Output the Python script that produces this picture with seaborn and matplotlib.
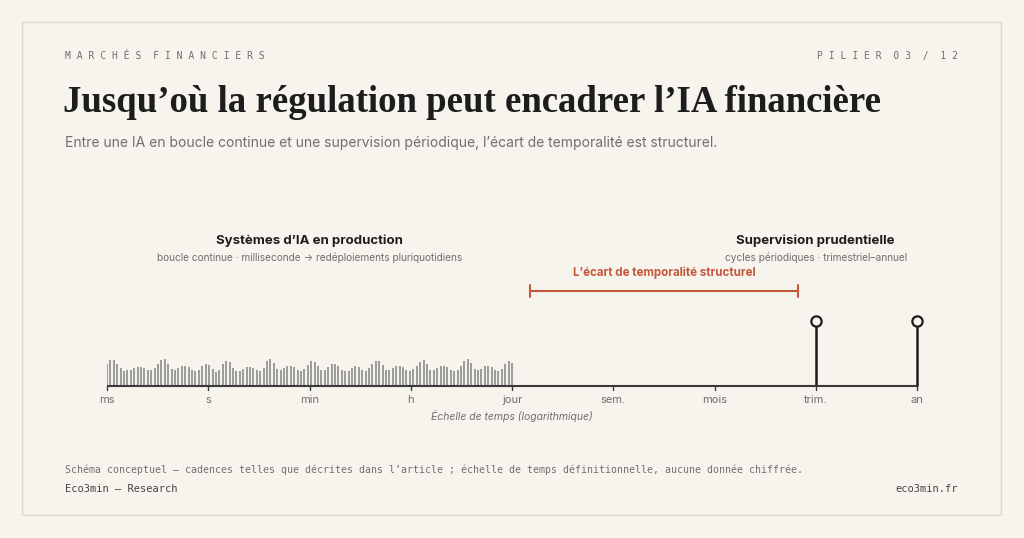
import numpy as np
import matplotlib.pyplot as plt
import seaborn as sns
from matplotlib.patches import Rectangle

sns.set_theme(style="white")
plt.rcParams['font.family'] = ['Inter', 'DejaVu Sans']

BG = '#f7f4ee'
INK = '#1d1d1d'
GREY = '#6f6f6f'
RED = '#c4583a'

tick_labels = ['ms', 's', 'min', 'h', 'jour', 'sem.', 'mois', 'trim.', 'an']
# continuous AI cadence: bar heights (conceptual, px-like units)
ai_heights = [22, 26, 26, 22, 18, 15, 16, 16, 18, 19, 19, 18, 16, 16, 18, 22, 26, 27, 22, 17,
              16, 18, 20, 20, 19, 16, 15, 16, 20, 22, 21, 17, 14, 16, 22, 25, 24, 18, 15, 15,
              17, 19, 19, 18, 16, 15, 18, 25, 27, 23, 17, 16, 18, 20, 20, 19, 16, 15, 17, 21,
              25, 24, 20, 16, 16, 19, 22, 22, 20, 16, 15, 15, 18, 20, 19, 16, 15, 18, 22, 25,
              25, 21, 16, 16, 18, 20, 20, 19, 16, 15, 17, 20, 24, 26, 22, 16, 16, 18, 20, 20,
              19, 16, 15, 16, 20, 25, 27, 23, 17, 16, 17, 20, 20, 19, 16, 15, 17, 22, 25, 23]
sup_x = [7, 8]
sup_h = [65, 65]
gap_start, gap_end = 4.18, 6.82

fig = plt.figure(figsize=(10.24, 5.38), dpi=100)
fig.patch.set_facecolor(BG)
fig.patches.append(Rectangle((22 / 1024, 1 - 515 / 538), 979 / 1024, 493 / 538,
                             transform=fig.transFigure, fill=False, ec='#dcd8cf', lw=1))

def fy(px):
    return 1 - px / 538

mono = ['DejaVu Sans Mono']
fig.text(65 / 1024, fy(56), 'M A R C H É S   F I N A N C I E R S'.replace('   ', '  '), family=mono,
         fontsize=7, color=GREY, va='center')
fig.text(958 / 1024, fy(56), 'P I L I E R  0 3  /  1 2', family=mono, fontsize=7, color=GREY,
         va='center', ha='right')
fig.text(63 / 1024, fy(103), 'Jusqu’où la régulation peut encadrer l’IA financière',
         family=['Liberation Serif'], fontsize=26.5, fontweight='bold', color=INK, va='center')
fig.text(65 / 1024, fy(143), 'Entre une IA en boucle continue et une supervision périodique, l’écart de temporalité est structurel.',
         fontsize=10, color=GREY, va='center')
fig.text(65 / 1024, fy(470), 'Schéma conceptuel — cadences telles que décrites dans l’article ; échelle de temps définitionnelle, aucune donnée chiffrée.',
         family=mono, fontsize=7.1, color=GREY, va='center')
fig.text(65 / 1024, fy(489), 'Eco3min — Research', family=mono, fontsize=7.5, color='#444444', va='center')
fig.text(958 / 1024, fy(489), 'eco3min.fr', family=mono, fontsize=7.5, color='#444444', va='center', ha='right')

# axes: x 107..917 px -> 0..8 ; y 220..430 px -> 166..-44
ax = fig.add_axes([107 / 1024, 1 - 430 / 538, 810 / 1024, 210 / 538])
ax.set_xlim(0, 8)
ax.set_ylim(-44, 166)
ax.axis('off')

bx = np.linspace(0, 4, len(ai_heights))
ax.vlines(bx, 0, ai_heights, color='#8c8c8c', lw=1.2)
ax.vlines(sup_x, 0, sup_h, color=INK, lw=1.8, clip_on=False)
sns.scatterplot(x=sup_x, y=sup_h, ax=ax, s=55, facecolor=BG, edgecolor=INK, linewidth=1.6,
                zorder=5, clip_on=False)
ax.axhline(0, color='#3a3a3a', lw=1.5)
for i, lab in enumerate(tick_labels):
    ax.plot([i, i], [0, -4], color='#3a3a3a', lw=1, clip_on=False)
    ax.text(i, -14, lab, ha='center', va='center', fontsize=8, color=GREY)
ax.text(4, -30, 'Échelle de temps (logarithmique)', ha='center', va='center', fontsize=7.5,
        color=GREY, style='italic')

ax.plot([gap_start, gap_end], [95, 95], color=RED, lw=1.5)
ax.plot([gap_start, gap_start], [89, 101], color=RED, lw=1.5)
ax.plot([gap_end, gap_end], [89, 101], color=RED, lw=1.5)
ax.text((gap_start + gap_end) / 2, 113, 'L’écart de temporalité structurel', ha='center', va='center',
        fontsize=8.3, color=RED, fontweight='bold')

ax.text(2, 145, 'Systèmes d’IA en production', ha='center', va='center', fontsize=9.5,
        fontweight='bold', color=INK)
ax.text(2, 128, 'boucle continue · milliseconde → redéploiements pluriquotidiens', ha='center',
        va='center', fontsize=7.3, color=GREY)
ax.text(7, 145, 'Supervision prudentielle', ha='center', va='center', fontsize=9.5,
        fontweight='bold', color=INK)
ax.text(7, 128, 'cycles périodiques · trimestriel–annuel', ha='center', va='center',
        fontsize=7.3, color=GREY)

fig.savefig('out.png', dpi=100, facecolor=BG)
